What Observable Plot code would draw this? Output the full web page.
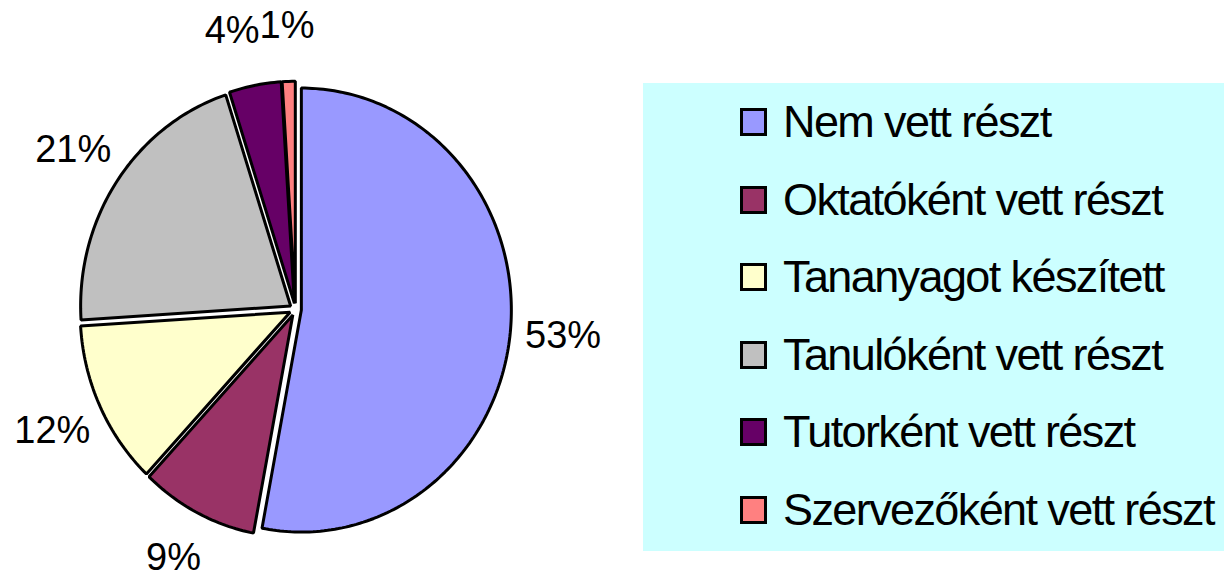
<!DOCTYPE html>
<html>
<head>
<meta charset="utf-8">
<script src="https://cdn.jsdelivr.net/npm/d3@7"></script>
<script src="https://cdn.jsdelivr.net/npm/@observablehq/plot@0.6"></script>
<style>
  html, body { margin: 0; padding: 0; background: #fff; }
  #wrap { position: relative; width: 1224px; height: 579px; overflow: hidden; font-family: "Liberation Sans", Arial, sans-serif; }
  #legend { position: absolute; left: 643px; top: 83px; width: 581px; height: 468px; background: #CCFFFF; }
  .row { position: absolute; left: 97px; height: 50px; display: flex; align-items: center; }
  .sw { width: 21px; height: 22px; border: 3px solid #000; margin-right: 16px; }
  .lbl { font-size: 45px; letter-spacing: -1.6px; color: #000; white-space: nowrap; line-height: 50px; }
</style>
</head>
<body>
<div id="wrap"></div>
<script>
const categories = ["Nem vett részt", "Oktatóként vett részt", "Tananyagot készített", "Tanulóként vett részt", "Tutorként vett részt", "Szervezőként vett részt"];
const values = [53, 9, 12, 21, 4, 1];
const colors = ["#9999FF", "#993366", "#FFFFCC", "#C0C0C0", "#660066", "#FF8080"];

const W = 1224, H = 579;
const cx = 295, cy = 309, rx = 210, ry = 222;
const explode = 0.028, labelR = 1.28, labelSize = 38;

const arcs = d3.pie().sort(null).value(d => d)(values);
const slicePts = [];
const labels = [];
arcs.forEach((a, i) => {
  const mid = (a.startAngle + a.endAngle) / 2;
  const ox = explode * Math.sin(mid), oy = explode * Math.cos(mid);
  slicePts.push({cat: categories[i], u: ox, v: oy});
  const n = Math.max(2, Math.ceil((a.endAngle - a.startAngle) / (Math.PI / 180)));
  for (let k = 0; k <= n; k++) {
    const t = a.startAngle + (a.endAngle - a.startAngle) * k / n;
    slicePts.push({cat: categories[i], u: ox + Math.sin(t), v: oy + Math.cos(t)});
  }
  labels.push({text: values[i] + "%", u: labelR * Math.sin(mid), v: labelR * Math.cos(mid)});
});

// simple label collision avoidance (push the left-hand label further left)
const ctx = document.createElement("canvas").getContext("2d");
ctx.font = `${labelSize}px "Liberation Sans", Arial, sans-serif`;
labels.forEach(l => { l.w = ctx.measureText(l.text).width / rx; });
for (let i = labels.length - 1; i > 0; i--) {
  const a = labels[i - 1], b = labels[i];
  if (Math.abs(a.v - b.v) * ry < labelSize && a.u < b.u) {
    const need = (a.w + b.w) / 2;
    if (b.u - a.u < need) a.u = b.u - need;
  }
}
// keep labels inside the drawing area vertically
const vMin = -(H - cy - labelSize * 0.58) / ry;
labels.forEach(l => { if (l.v < vMin) l.v = vMin; });

const chart = Plot.plot({
  width: W, height: H, margin: 0,
  style: {fontFamily: '"Liberation Sans", Arial, sans-serif', background: "transparent"},
  x: {domain: [-cx / rx, (W - cx) / rx], axis: null},
  y: {domain: [-(H - cy) / ry, cy / ry], axis: null},
  color: {domain: categories, range: colors},
  marks: [
    Plot.line(slicePts, {x: "u", y: "v", z: "cat", fill: "cat", stroke: "#000", strokeWidth: 3, strokeLinejoin: "miter", curve: "linear-closed"}),
    Plot.text(labels, {x: "u", y: "v", text: "text", fontSize: labelSize, fill: "#000"})
  ]
});
const wrap = document.getElementById("wrap");
wrap.appendChild(chart);
chart.style.position = "absolute"; chart.style.left = "0"; chart.style.top = "0";

const legend = document.createElement("div");
legend.id = "legend";
categories.forEach((c, i) => {
  const row = document.createElement("div");
  row.className = "row";
  row.style.top = (39 + 77.5 * i - 25) + "px";
  const sw = document.createElement("div");
  sw.className = "sw"; sw.style.background = colors[i];
  const t = document.createElement("span");
  t.className = "lbl"; t.textContent = c;
  row.appendChild(sw); row.appendChild(t);
  legend.appendChild(row);
});
wrap.appendChild(legend);
</script>
</body>
</html>
